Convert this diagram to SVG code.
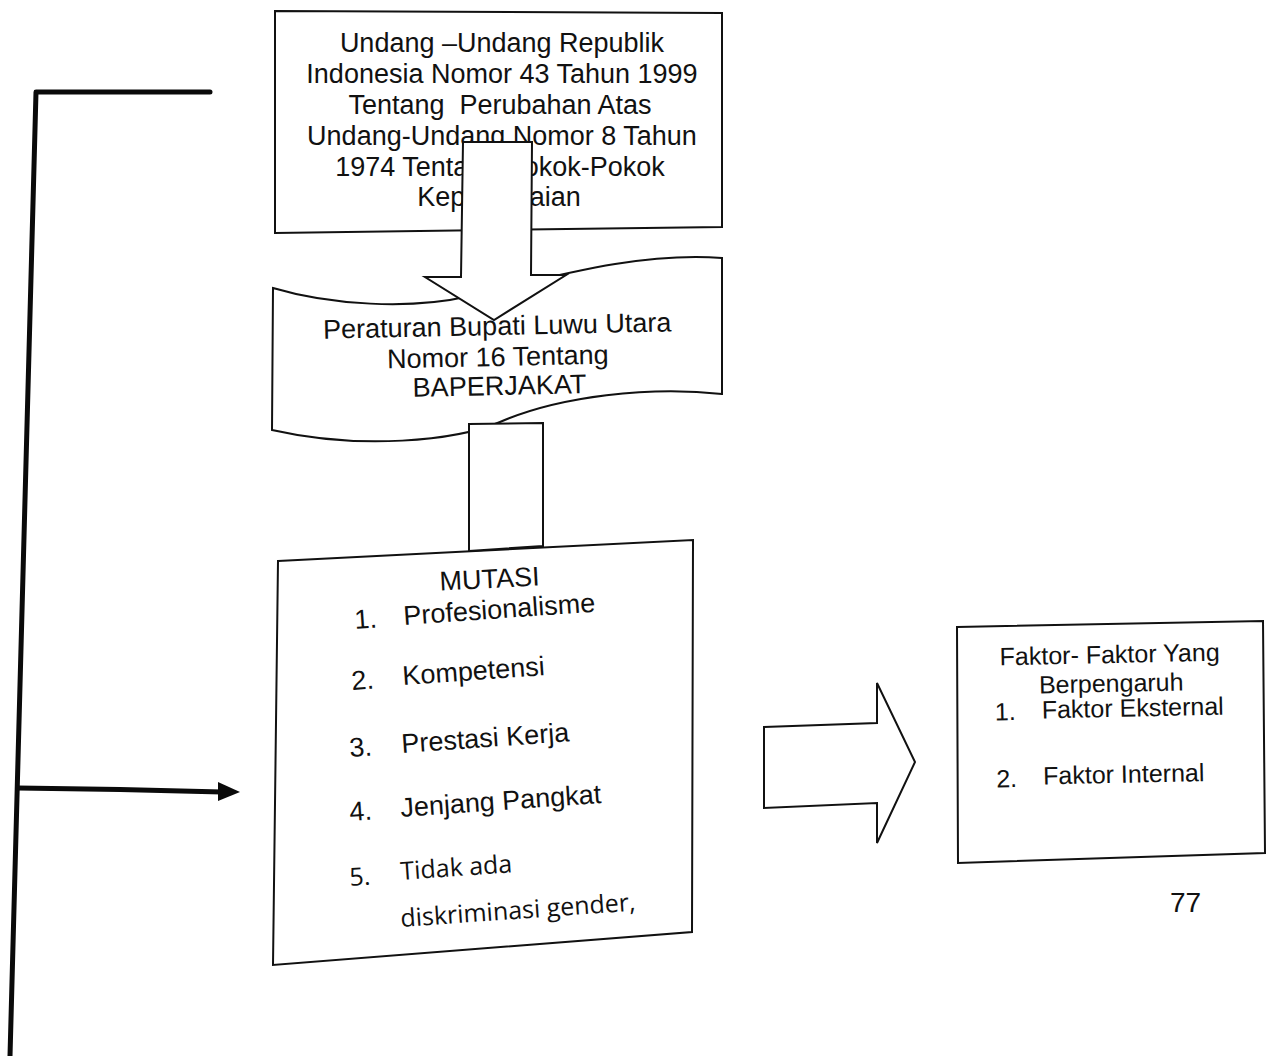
<svg xmlns="http://www.w3.org/2000/svg" width="1266" height="1056" viewBox="0 0 1266 1056">
<style>
.box{fill:#fff;stroke:#111;stroke-width:2;stroke-linejoin:miter}
.t{font-family:"Liberation Sans",Arial,sans-serif;font-size:27px;fill:#111}
.c{text-anchor:middle}
.f{font-size:25px}
.o{font-family:"Open Sans","Noto Sans",sans-serif;font-size:25px;fill:#111}
.line{fill:none;stroke:#0a0a0a;stroke-width:5;stroke-linecap:round;stroke-linejoin:round}
.blk{fill:#fff;stroke:#111;stroke-width:2}
</style>
<rect width="1266" height="1056" fill="#fff"/>

<g id="node-uu">
<polygon class="box" points="275,11 722,13 722,227 275,233"/>
<text class="t c" x="502" y="52">Undang –Undang Republik</text>
<text class="t c" x="502" y="83">Indonesia Nomor 43 Tahun 1999</text>
<text class="t c" x="500" y="114" xml:space="preserve">Tentang  Perubahan Atas</text>
<text class="t c" x="502" y="145">Undang-Undang Nomor 8 Tahun</text>
<text class="t c" x="500" y="176">1974 Tentang Pokok-Pokok</text>
<text class="t c" x="499" y="206">Kepegawaian</text>
</g>

<g id="node-perbup">
<path class="box" d="M273,288 C330,305 410,310 470,296 C560,275 640,252 722,258 L722,394 C650,386 560,396 500,422 C455,441 360,450 272,430 Z"/>
<g transform="rotate(-1.2 498 365)">
<text class="t c" x="498" y="335">Peraturan Bupati Luwu Utara</text>
<text class="t c" x="498" y="366">Nomor 16 Tentang</text>
<text class="t c" x="499" y="395">BAPERJAKAT</text>
</g>
</g>

<g id="node-mutasi">
<polygon class="box" points="278,561 693,540 692,932 273,965"/>
<text class="t c" x="490" y="588" transform="rotate(-3 490 588)">MUTASI</text>
<text class="t" x="355" y="629" transform="rotate(-4 355 629)">1.</text>
<text class="t" x="404" y="625" transform="rotate(-4 404 625)">Profesionalisme</text>
<text class="t" x="352" y="690" transform="rotate(-4 352 690)">2.</text>
<text class="t" x="403" y="685" transform="rotate(-4 403 685)">Kompetensi</text>
<text class="t" x="350" y="757" transform="rotate(-4 350 757)">3.</text>
<text class="t" x="402" y="753" transform="rotate(-4 402 753)">Prestasi Kerja</text>
<text class="t" x="350" y="821" transform="rotate(-4 350 821)">4.</text>
<text class="t" x="401" y="817" transform="rotate(-4 401 817)">Jenjang Pangkat</text>
<text class="o" x="350" y="886" transform="rotate(-4 350 886)">5.</text>
<text class="o" x="401" y="880" transform="rotate(-4 401 880)">Tidak ada</text>
<text class="o" x="401" y="927" transform="rotate(-4 401 927)">diskriminasi gender,</text>
</g>

<g id="node-faktor">
<polygon class="box" points="957,627 1263,621 1265,853 958,863"/>
<g transform="rotate(-1.2 1110 720)">
<text class="t f c" x="1111" y="663">Faktor- Faktor Yang</text>
<text class="t f c" x="1112" y="692">Berpengaruh</text>
<text class="t f" x="995" y="718">1.</text>
<text class="t f" x="1042" y="717">Faktor Eksternal</text>
<text class="t f" x="995" y="785">2.</text>
<text class="t f" x="1042" y="783">Faktor Internal</text>
</g>
</g>

<g id="page-number">
<text class="t" x="1170" y="912" style="font-size:28px">77</text>
</g>

<g id="connectors">
<polygon class="blk" points="463,142 532,142 531,275 566,275 494,320 425,277 461,277"/>
<polygon class="blk" points="469,424 543,423 543,546 469,551"/>
<polygon class="blk" points="764,727 877,723 877,683 915,762 877,843 877,803 764,808"/>
<path class="line" d="M210,92 L36,92 L10,1056"/>
<path class="line" d="M18,788 Q120,789 222,792"/>
<polygon points="218,782 240,792 218,801" fill="#0a0a0a"/>
</g>
</svg>
